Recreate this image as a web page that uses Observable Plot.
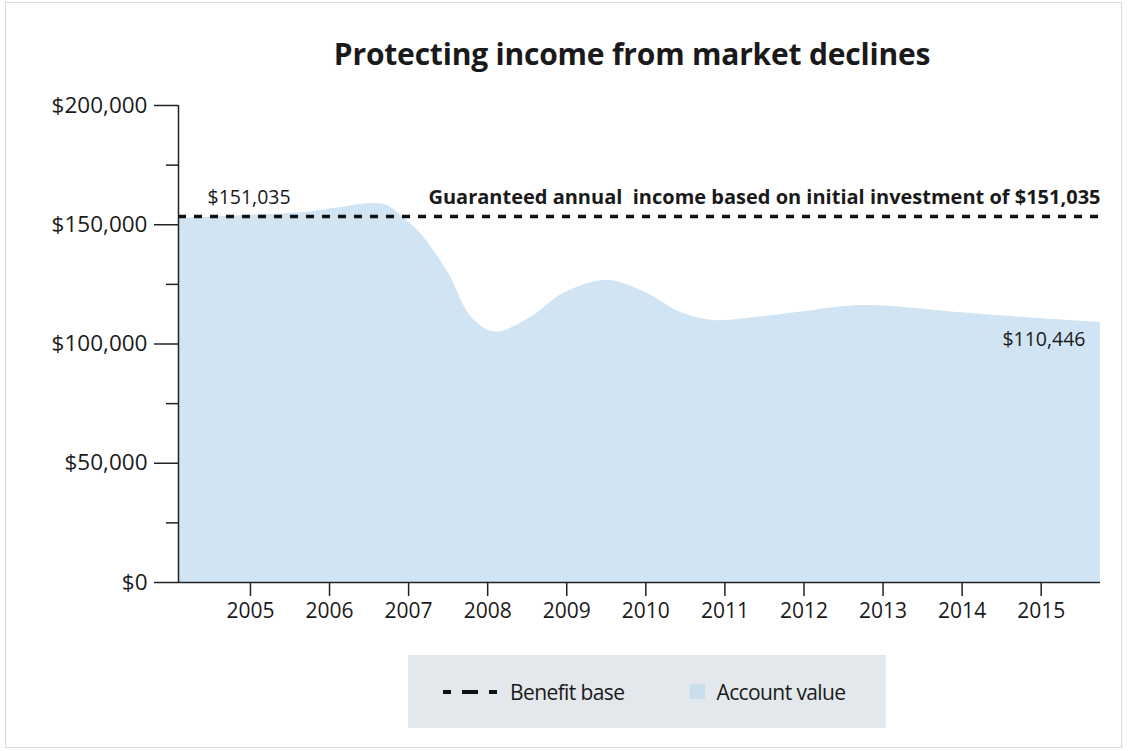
<!DOCTYPE html>
<html><head><meta charset="utf-8">
<script src="https://cdn.jsdelivr.net/npm/d3@7"></script>
<script src="https://cdn.jsdelivr.net/npm/@observablehq/plot@0.6"></script>
<style>
body{margin:0;background:#fff;font-family:"Open Sans",sans-serif;}
#wrap{position:relative;width:1131px;height:751px;overflow:hidden;background:#fff}
#frame{position:absolute;left:5px;top:2px;width:1117px;height:746px;border:1px solid #d9d9e0;box-sizing:border-box}
#chart{position:absolute;left:0;top:0}
#title{position:absolute;left:232px;width:800px;top:33px;text-align:center;font-size:30px;font-weight:700;color:#1a1a1a;letter-spacing:-0.2px}
#legend{position:absolute;left:408px;top:655px;width:478px;height:73px;background:#e2e8eb;display:flex;align-items:center;font-size:21px;color:#1a1a1a;letter-spacing:-0.6px}
#legend .item{display:flex;align-items:center}
</style>
</head><body>
<div id="wrap">
  <div id="frame"></div>
  <div id="chart"></div>
  <div id="title">Protecting income from market declines</div>
  <div id="legend">
    <div class="item" style="margin-left:35px">
      <svg width="54" height="10">
        <rect x="0" y="3" width="8" height="4" fill="#111"/>
        <rect x="19" y="3" width="16" height="4" fill="#111"/>
        <rect x="46" y="3" width="8" height="4" fill="#111"/>
      </svg>
      <span style="margin-left:13px">Benefit base</span>
    </div>
    <div class="item" style="margin-left:66px">
      <span style="display:inline-block;width:15px;height:15px;background:#c9deec"></span>
      <span style="margin-left:11px">Account value</span>
    </div>
  </div>
</div>
<script>
// Data
const accountYears = [2004.09, 2005.00, 2005.67, 2006.14, 2006.52, 2006.73, 2006.90, 2007.15, 2007.50, 2007.80, 2008.10, 2008.54, 2008.96, 2009.51, 2010.02, 2010.44, 2010.85, 2011.28, 2011.92, 2012.75, 2013.94, 2014.77, 2015.75];
const accountValues = [152600, 154000, 155100, 157200, 158900, 158100, 153900, 146300, 130000, 111000, 105000, 111100, 121200, 126600, 121200, 113200, 109900, 110700, 113200, 116100, 113200, 111100, 109000];
const benefitBase = 153500;
const xTicks = [2005, 2006, 2007, 2008, 2009, 2010, 2011, 2012, 2013, 2014, 2015];
const yTicks = [0, 50000, 100000, 150000, 200000];
const yMinorTicks = [25000, 75000, 125000, 175000];
const startLabel = "$151,035";
const guaranteeLabel = "Guaranteed annual  income based on initial investment of $151,035";
const endLabel = "$110,446";

const accountData = accountYears.map((y, i) => ({year: y, value: accountValues[i]}));
const xDomain = [accountYears[0], accountYears[accountYears.length - 1]];
const fmt = d => "$" + d3.format(",")(d);

const chart = Plot.plot({
  width: 1131,
  height: 630,
  marginLeft: 178,
  marginRight: 31,
  marginTop: 105,
  marginBottom: 48,
  style: {fontFamily: "Open Sans, sans-serif", fontSize: "20px", color: "#1a1a1a", background: "transparent"},
  x: {domain: xDomain, axis: null},
  y: {domain: [0, 200000], axis: null},
  marks: [
    Plot.areaY(accountData, {x: "year", y: "value", fill: "#d0e4f3", curve: "catmull-rom"}),
    Plot.ruleY([benefitBase], {stroke: "#111", strokeWidth: 3.5, strokeDasharray: "8,8"}),
    Plot.ruleX([xDomain[0]], {y1: 0, y2: 200000, stroke: "#222", strokeWidth: 1.5}),
    Plot.ruleY([0], {stroke: "#222", strokeWidth: 1.5}),
    Plot.axisY({ticks: yTicks, tickFormat: fmt, tickSize: 24, tickPadding: 7, fontSize: 22.5, label: null, stroke: "#222", strokeWidth: 1.5}),
    Plot.axisY({ticks: yMinorTicks, tickFormat: () => "", tickSize: 12, label: null, stroke: "#222", strokeWidth: 1.5}),
    Plot.axisX({ticks: xTicks, tickFormat: d => String(d), tickSize: 14, tickPadding: 7, fontSize: 21, label: null, stroke: "#222", strokeWidth: 1.5}),
    Plot.text([startLabel], {x: xDomain[0], y: benefitBase, text: d => d, dx: 29, dy: -19, textAnchor: "start", fontSize: 19.5, fill: "#1a1a1a"}),
    Plot.text([guaranteeLabel], {x: xDomain[1], y: benefitBase, text: d => d, dx: 0, dy: -19, textAnchor: "end", fontSize: 20, fontWeight: 700, fill: "#1a1a1a"}),
    Plot.text([endLabel], {x: xDomain[1], y: accountValues[accountValues.length - 1], text: d => d, dx: -15, dy: 17, textAnchor: "end", fontSize: 19.5, fill: "#1a1a1a"})
  ]
});
document.getElementById("chart").appendChild(chart);
</script>
</body></html>
